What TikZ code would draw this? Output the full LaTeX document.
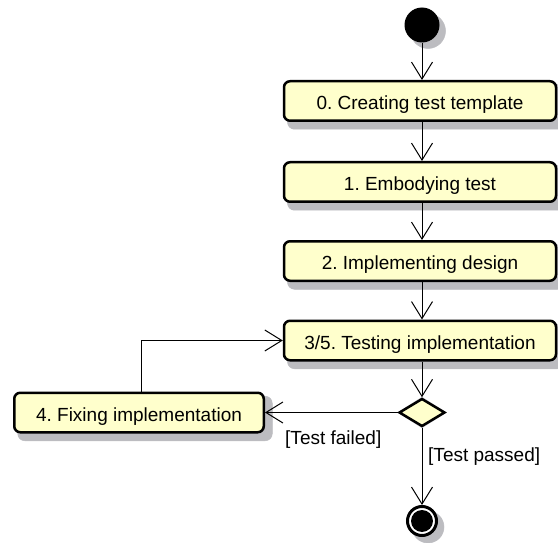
\documentclass[tikz,border=0pt]{standalone}
\usepackage{fontspec}
\setmainfont{Liberation Sans}
\usetikzlibrary{arrows.meta,shapes.geometric,backgrounds}
\definecolor{actyellow}{HTML}{FFFFCC}
\definecolor{shadowgray}{HTML}{BCBCC0}
\frenchspacing
\begin{document}
\begin{tikzpicture}[x=1pt,y=1pt,font=\fontsize{19}{22}\selectfont,
        action/.style={draw,line width=2.5pt,rounded corners=6pt,fill=actyellow,
            minimum width=272pt,minimum height=39.5pt,inner sep=0pt,text height=17.5pt,text depth=0pt},
        shadowfill/.style={fill=shadowgray,draw=shadowgray,line width=0.5pt},
        flow/.style={line width=1pt,-{Straight Barb[length=17pt,width=21pt]}}]
    \useasboundingbox (0,0) rectangle (558,-543);
    % initial and final states
    \node[circle,fill=black,minimum size=35pt,inner sep=0pt] (start) at (422,-25) {};
    \node[circle,draw,line width=3pt,fill=white,minimum size=29pt,inner sep=0pt] (stop) at (422,-521) {};
    \fill (stop.center) circle (11);
    % activities
    \node[action] (b0) at (420,-101) {0. Creating test template};
    \node[action] (b1) at (420,-182) {1. Embodying test};
    \node[action] (b2) at (420,-261) {2. Implementing design};
    \node[action] (b3) at (420,-340.5) {3/5. Testing implementation};
    \node[action,minimum width=249.5pt] (fix) at (139,-412.5) {4. Fixing implementation};
    \node[diamond,draw,line width=2.5pt,fill=actyellow,minimum width=46pt,
        minimum height=28pt,inner sep=0pt] (dec) at (422,-412.5) {};
    % drop shadows
    \begin{scope}[on background layer]
        \foreach \n in {b0,b1,b2,b3,fix}{
            \filldraw[shadowfill,rounded corners=7pt] ([shift={(4.75,-7.25)}]\n.south west) rectangle ([shift={(7.25,-4.75)}]\n.north east);
        }
        \filldraw[shadowfill] ([shift={(6,-6)}]start.center) circle (17.5);
        \filldraw[shadowfill] ([shift={(6,-6)}]stop.center) circle (16);
        \filldraw[shadowfill,shift={(6,-6)}] (dec.north) -- (dec.east) -- (dec.south) -- (dec.west) -- cycle;
    \end{scope}
    % guards
    \node[anchor=base west,inner sep=0pt] (failed) at (285,-444) {[Test failed]};
    \node[anchor=base west,inner sep=0pt] (passed) at (428,-461) {[Test passed]};
    % transitions
    \draw[flow] (start) -- (start |- b0.north);
    \foreach \a/\b in {b0/b1,b1/b2,b2/b3}{
        \draw[flow] (\a.south -| start) -- (start |- \b.north);
    }
    \draw[flow] (b3.south -| dec) -- (dec.north);
    \draw[flow] (dec.west) -- (fix.east);
    \draw[flow] (dec.south) -- (stop.north);
    \draw[flow] ([xshift=2pt]fix.north) |- (b3.west);
\end{tikzpicture}
\end{document}
